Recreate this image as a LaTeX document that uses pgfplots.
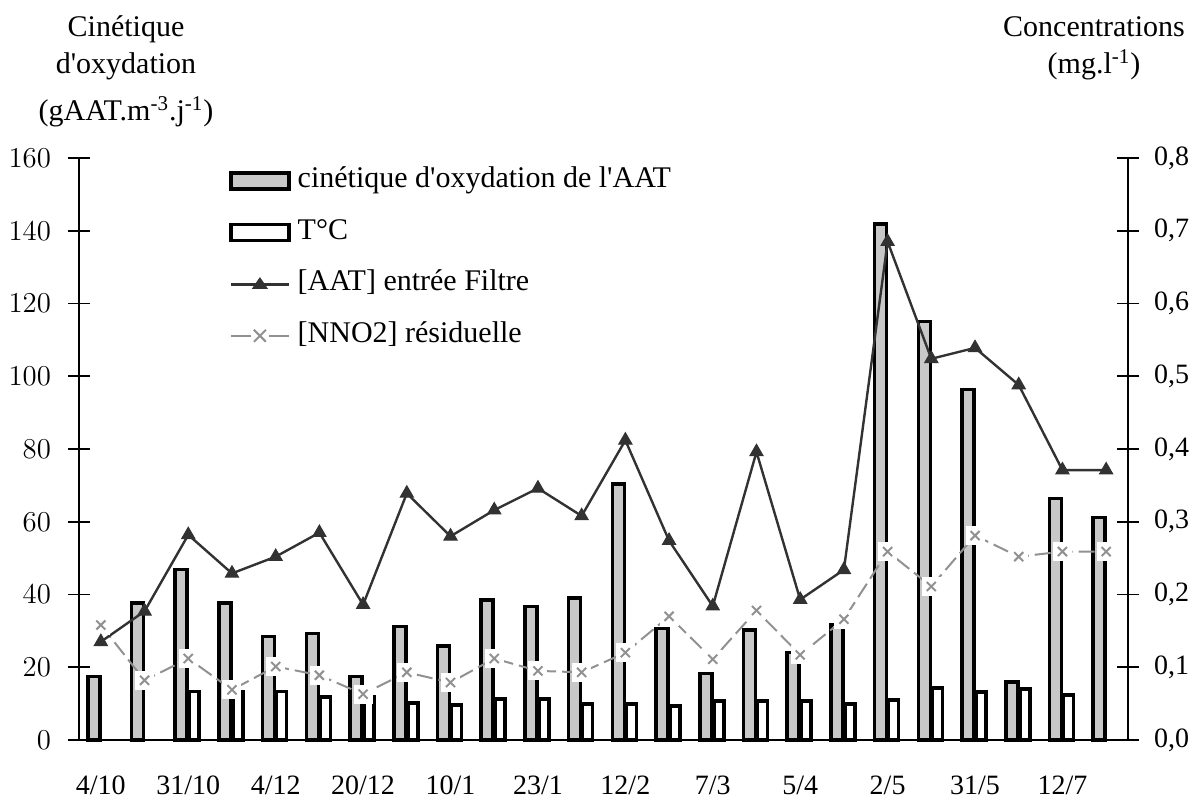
\documentclass[border=0pt]{standalone}
\usepackage{fontspec}
\setmainfont{Liberation Serif}
\usepackage{pgfplots}
\pgfplotsset{compat=1.18}
\definecolor{barfill}{RGB}{200,200,200}
\definecolor{aatcol}{RGB}{50,50,50}
\definecolor{nnocol}{RGB}{145,145,145}
\newcommand{\tickfont}{\fontsize{14}{16}\selectfont}
\newcommand{\txtfont}{\fontsize{15}{18}\selectfont}
\begin{document}
\begin{tikzpicture}
\useasboundingbox (0,0) rectangle (597pt,400.5pt);
\begin{axis}[
  at={(39.5pt,30.5pt)}, anchor=south west,
  scale only axis, width=524.5pt, height=291pt,
  xmin=-0.5, xmax=23.5, ymin=0, ymax=160,
  axis x line*=bottom, axis y line*=left,
  axis line style={line width=0.9pt, black},
  xtick={0,2,...,22},
  xticklabels={4/10,31/10,4/12,20/12,10/1,23/1,12/2,7/3,5/4,2/5,31/5,12/7},
  minor xtick={-0.5,0.5,...,23.5},
  ytick={0,20,...,160},
  tick align=center,
  major tick length=11pt,
  minor tick length=8pt,
  y tick style={line width=0.9pt, black},
  minor x tick style={line width=0.9pt, black},
  xtick style={draw=none},
  xticklabel style={font=\tickfont, yshift=-9pt},
  yticklabel style={font=\tickfont, xshift=-5pt},
  clip=false,
]
\addplot[ybar, bar width=6pt, bar shift=-3.5pt, fill=barfill, draw=black, line width=1.8pt]
coordinates {
(0,17.4) (1,37.7) (2,46.9) (3,37.7) (4,28.4) (5,29.3) (6,17.4) (7,31.2)
(8,25.9) (9,38.5) (10,36.7) (11,39.0) (12,70.4) (13,30.7) (14,18.3) (15,30.2)
(16,24.0) (17,31.8) (18,141.8) (19,115.0) (20,96.3) (21,16.0) (22,66.4) (23,61.2)
};
\addplot[ybar, bar width=5pt, bar shift=3pt, fill=white, draw=black, line width=1.8pt]
coordinates {
(2,13.3) (3,13.3) (4,13.3) (5,11.9) (6,11.9) (7,10.1)
(8,9.6) (9,11.2) (10,11.2) (11,9.9) (12,9.9) (13,9.3) (14,10.8) (15,10.8)
(16,10.8) (17,9.9) (18,11.0) (19,14.3) (20,13.2) (21,14.1) (22,12.4)
};
\end{axis}
\begin{axis}[
  at={(39.5pt,30.5pt)}, anchor=south west,
  scale only axis, width=524.5pt, height=291pt,
  xmin=-0.5, xmax=23.5, ymin=0, ymax=0.8,
  axis x line=none, axis y line*=right,
  axis line style={line width=0.9pt, black},
  ytick={0,0.1,...,0.8},
  yticklabels={{0,0},{0,1},{0,2},{0,3},{0,4},{0,5},{0,6},{0,7},{0,8}},
  tick align=center,
  major tick length=11pt,
  y tick style={line width=0.9pt, black},
  yticklabel style={font=\tickfont, xshift=4pt},
  clip=false,
  legend style={at={(0.137,0.993)}, anchor=north west, draw=none, fill=none,
    font=\txtfont, row sep=11.3pt,
    nodes={inner sep=0pt, text height=10.5pt, text depth=4pt},
    /tikz/every odd column/.append style={column sep=3.5pt}},
  legend cell align=left,
]
\addlegendimage{legend image code/.code={\draw[fill=barfill, draw=black, line width=1.8pt] (0pt,-4pt) rectangle (29pt,4pt);}}
\addlegendentry{cinétique d\textquotesingle oxydation de l\textquotesingle AAT}
\addlegendimage{legend image code/.code={\draw[fill=white, draw=black, line width=1.8pt] (0pt,-4pt) rectangle (29pt,4pt);}}
\addlegendentry{T°C}
\addlegendimage{legend image code/.code={\draw[aatcol, line width=1.4pt] (0pt,0pt)--(29pt,0pt); \fill[aatcol] (14.5pt,3.2pt)--(10.8pt,-2.2pt)--(18.2pt,-2.2pt)--cycle;}}
\addlegendentry{[AAT] entrée Filtre}
\addlegendimage{legend image code/.code={\draw[nnocol, line width=1pt] (0pt,0pt)--(10pt,0pt) (19pt,0pt)--(29pt,0pt); \draw[nnocol, line width=1pt] (11.5pt,-3pt)--(17.5pt,3pt) (11.5pt,3pt)--(17.5pt,-3pt);}}
\addlegendentry{[NNO2] résiduelle}
% NNO2 residual
\addplot[forget plot, nnocol, line width=1pt, dash pattern=on 8pt off 3pt, mark=none]
coordinates {
(0,0.158) (1,0.082) (2,0.112) (3,0.069) (4,0.101) (5,0.089) (6,0.063) (7,0.093)
(8,0.079) (9,0.112) (10,0.095) (11,0.093) (12,0.120) (13,0.170) (14,0.111) (15,0.178)
(16,0.117) (17,0.166) (18,0.259) (19,0.211) (20,0.281) (21,0.252) (22,0.259) (23,0.259)
};
\addplot[forget plot, white, only marks, mark=square*, mark size=4.5pt, mark options={fill=white, draw=white, line width=0pt}]
coordinates {
(0,0.158) (1,0.082) (2,0.112) (3,0.069) (4,0.101) (5,0.089) (6,0.063) (7,0.093)
(8,0.079) (9,0.112) (10,0.095) (11,0.093) (12,0.120) (13,0.170) (14,0.111) (15,0.178)
(16,0.117) (17,0.166) (18,0.259) (19,0.211) (20,0.281) (21,0.252) (22,0.259) (23,0.259)
};
\addplot[forget plot, nnocol, only marks, mark=x, mark size=3.2pt, mark options={draw=nnocol, line width=1pt}]
coordinates {
(0,0.158) (1,0.082) (2,0.112) (3,0.069) (4,0.101) (5,0.089) (6,0.063) (7,0.093)
(8,0.079) (9,0.112) (10,0.095) (11,0.093) (12,0.120) (13,0.170) (14,0.111) (15,0.178)
(16,0.117) (17,0.166) (18,0.259) (19,0.211) (20,0.281) (21,0.252) (22,0.259) (23,0.259)
};
% AAT inlet
\addplot[forget plot, aatcol, line width=1.2pt, mark=triangle*, mark size=3.8pt, mark options={fill=aatcol, draw=aatcol, line width=0.5pt}]
coordinates {
(0,0.135) (1,0.177) (2,0.282) (3,0.229) (4,0.252) (5,0.285) (6,0.186) (7,0.339)
(8,0.280) (9,0.316) (10,0.346) (11,0.308) (12,0.412) (13,0.274) (14,0.184) (15,0.396)
(16,0.193) (17,0.234) (18,0.685) (19,0.524) (20,0.539) (21,0.488) (22,0.371) (23,0.371)
};
\end{axis}
\begin{scope}[font=\txtfont]
\node[anchor=base] at (63pt,382pt) {Cinétique};
\node[anchor=base] at (63pt,363.5pt) {d\textquotesingle oxydation};
\node[anchor=base] at (63pt,340pt) {(gAAT.m\textsuperscript{-3}.j\textsuperscript{-1})};
\node[anchor=base] at (547pt,382pt) {Concentrations};
\node[anchor=base] at (547pt,363.5pt) {(mg.l\textsuperscript{-1})};
\end{scope}
\end{tikzpicture}
\end{document}
